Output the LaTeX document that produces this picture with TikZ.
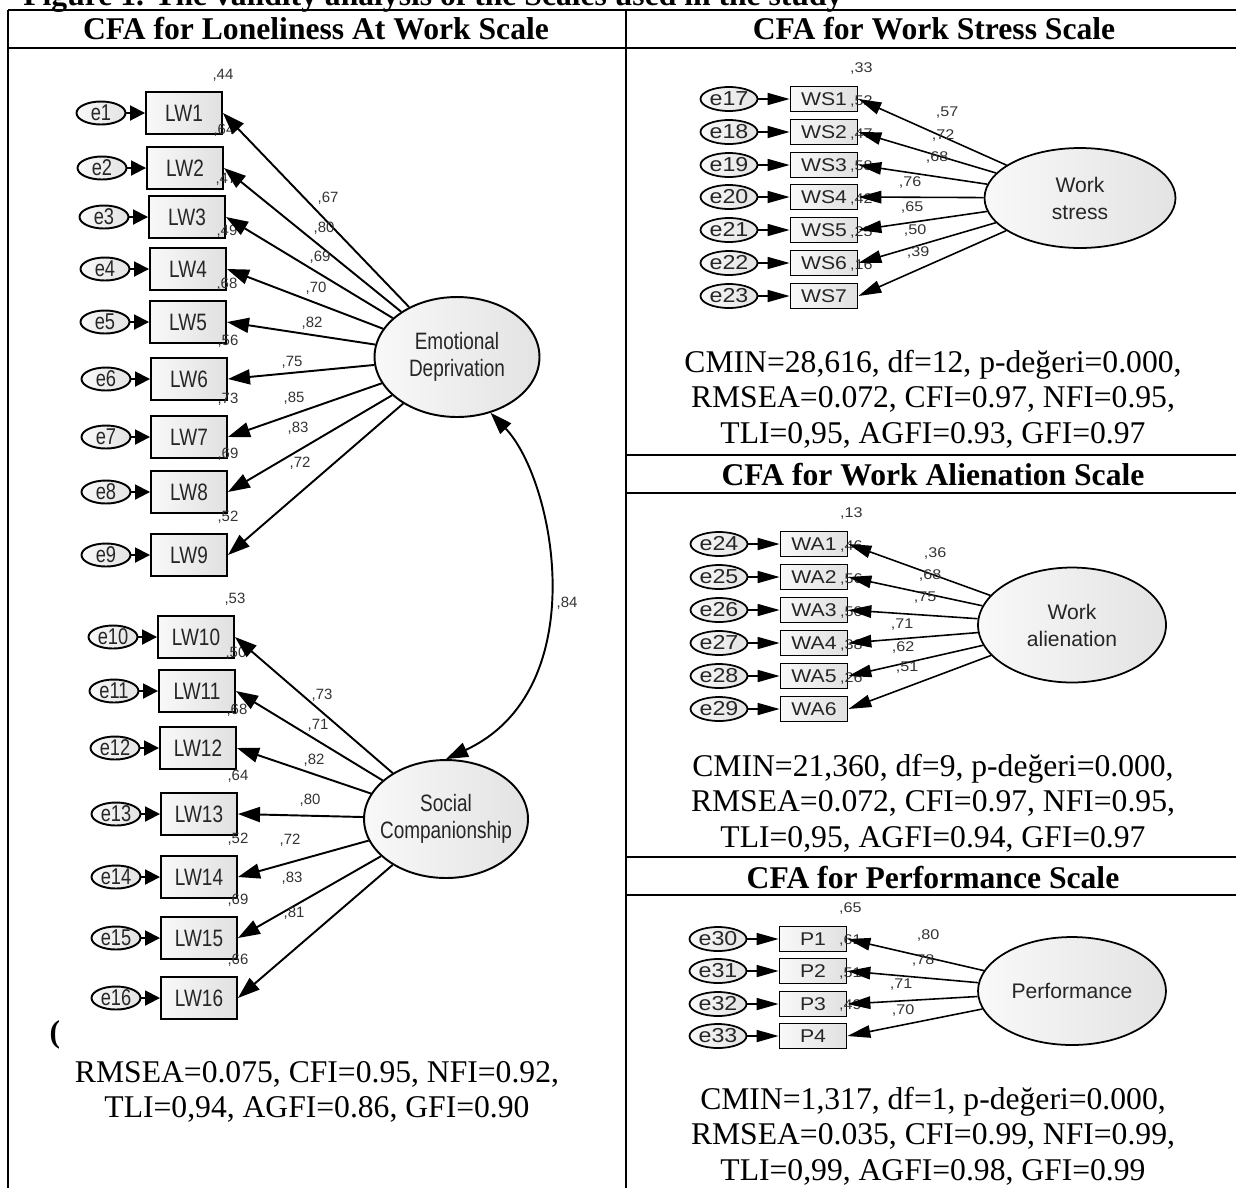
\documentclass[tikz,border=0pt]{standalone}
\usepackage{fontspec}
\setmainfont{Liberation Serif}
\newfontfamily\amos{Liberation Sans}
\newfontfamily\amosl[FakeStretch=0.8]{Liberation Sans}
\newfontfamily\amosr[FakeStretch=1.15]{Liberation Sans}
\usetikzlibrary{arrows.meta, shapes.geometric}

\begin{document}
\begin{tikzpicture}[x=0.02cm, y=-0.02cm,
    tablerule/.style={line width=1.1pt},
    heading/.style={inner sep=0pt, font=\bfseries\fontsize{18}{20}\selectfont},
    fitstat/.style={align=center, inner sep=0pt, font=\fontsize{18}{20.3}\selectfont},
    lwbox/.style={draw, line width=1.1pt, minimum width=1.52cm, minimum height=0.84cm, inner sep=0pt, left color=gray!5, right color=gray!24, text=black!85, font=\amosl\fontsize{13.5}{15}\selectfont},
    lwerr/.style={ellipse, draw, line width=1.1pt, minimum width=0.98cm, minimum height=0.46cm, inner sep=0pt, left color=gray!5, right color=gray!22, text=black!85, font=\amosl\fontsize{13}{14}\selectfont},
    lwlat/.style={ellipse, draw, line width=1.1pt, minimum width=3.3cm, minimum height=2.4cm, inner sep=0pt, left color=gray!5, right color=gray!22},
    lattext/.style={align=center, inner sep=0pt, text=black!85, font=\amosl\fontsize{13.5}{15.4}\selectfont},
    lwnum/.style={inner sep=0pt, text=black!80, font=\amos\fontsize{8.5}{9}\selectfont},
    lwload/.style={line width=1.1pt, -{Triangle[length=0.44cm, width=0.3cm]}},
    lwerrarr/.style={line width=1.1pt, -{Triangle[length=0.3cm, width=0.3cm]}},
    covarc/.style={line width=1.1pt, {Triangle[length=0.44cm, width=0.3cm]}-{Triangle[length=0.44cm, width=0.3cm]}},
    wbox/.style={draw, line width=1pt, minimum width=1.34cm, minimum height=0.5cm, inner sep=0pt, left color=gray!5, right color=gray!24, text=black!85, font=\amosr\fontsize{10.5}{12}\selectfont},
    werr/.style={ellipse, draw, line width=1pt, minimum width=1.14cm, minimum height=0.48cm, inner sep=0pt, left color=gray!5, right color=gray!22, text=black!85, font=\amosr\fontsize{11.5}{12}\selectfont},
    wlat/.style={ellipse, draw, line width=1pt, align=center, inner sep=0pt, left color=gray!5, right color=gray!22, text=black!85, font=\amos\fontsize{12}{15.4}\selectfont},
    wnum/.style={inner sep=0pt, text=black!80, font=\amosr\fontsize{8}{9}\selectfont},
    wload/.style={line width=0.9pt, -{Triangle[length=0.46cm, width=0.25cm]}},
    werrarr/.style={line width=0.9pt, -{Triangle[length=0.44cm, width=0.24cm]}}
]
    \useasboundingbox (0,0) rectangle (1236,1188);

    % 表格
    \node[heading, anchor=base west] (title) at (23,5) {Figure 1. The validity analysis of the Scales used in the study};
    \draw[tablerule] (8,10) -- (1236,10);
    \draw[tablerule] (8,48) -- (1236,48);
    \draw[tablerule] (8,10) -- (8,1188);
    \draw[tablerule] (626,10) -- (626,1188);
    \draw[tablerule] (626,455) -- (1236,455);
    \draw[tablerule] (626,493) -- (1236,493);
    \draw[tablerule] (626,857) -- (1236,857);
    \draw[tablerule] (626,895) -- (1236,895);
    \node[heading] (h1) at (316,29) {CFA for Loneliness At Work Scale};
    \node[heading] (h2) at (934,29) {CFA for Work Stress Scale};
    \node[heading] (h3) at (933,475) {CFA for Work Alienation Scale};
    \node[heading] (h4) at (933,877) {CFA for Performance Scale};

    % 潜变量
    \node[lwlat] (ed) at (457,357) {};
    \node[lattext] (edtext) at (ed.center) {Emotional\\Deprivation};
    \node[lwlat, minimum width=3.28cm, minimum height=2.36cm] (sc) at (446,819) {};
    \node[lattext] (sctext) at (sc.center) {Social\\Companionship};
    \node[wlat, minimum width=3.82cm, minimum height=2cm] (ws) at (1080,198) {Work\\stress};
    \node[wlat, minimum width=3.76cm, minimum height=2.3cm] (wa) at (1072,625) {Work\\alienation};
    \node[wlat, minimum width=3.76cm, minimum height=2.16cm] (perf) at (1072,991) {Performance};

    % 左图：观测变量
    \foreach \i/\x/\y/\rs in {1/184/113/44, 2/185/168/64, 3/187/217/47, 4/188/269/49, 5/188/322/68,
                              6/189/379/56, 7/189/437/73, 8/189/492/69, 9/189/555/52,
                              10/196/637/53, 11/197/691/50, 12/198/748/68, 13/199/814/64,
                              14/199/877/52, 15/199/938/69, 16/199/998/66} {
        \node[lwbox] (lw\i) at (\x,\y) {LW\i};
        \node[lwerr] (e\i) at (\x-83,\y) {e\i};
        \node[lwnum] (r\i) at ([yshift=0.32cm]lw\i.north east) {,\rs};
    }
    \foreach \i/\ld/\lx/\ly in {1/67/328/198, 2/80/324/228, 3/69/320/257, 4/70/316/288, 5/82/312/323,
                                6/75/292/362, 7/85/294/398, 8/83/298/428, 9/72/300/463} {
        \draw[lwerrarr] (e\i) -- (lw\i);
        \draw[lwload] (ed) -- (lw\i.east);
        \node[lwnum] (l\i) at (\lx,\ly) {,\ld};
    }
    \foreach \i/\ld/\lx/\ly in {10/73/322/695, 11/71/318/725, 12/82/314/760, 13/80/310/800,
                                14/72/290/840, 15/83/292/878, 16/81/294/913} {
        \draw[lwerrarr] (e\i) -- (lw\i);
        \draw[lwload] (sc) -- (lw\i.east);
        \node[lwnum] (l\i) at (\lx,\ly) {,\ld};
    }
    \draw[covarc] (ed.-59) .. controls (555,480) and (595,690) .. (sc.north);
    \node[lwnum] (cov) at (567,603) {,84};

    % 右图：观测变量
    \foreach \i/\bx/\y/\rs/\pre in {17/824/99/33/WS1, 18/824/132/52/WS2, 19/824/165/47/WS3, 20/824/197/58/WS4,
                                    21/824/230/42/WS5, 22/824/263/25/WS6, 23/824/296/16/WS7,
                                    24/814/544/13/WA1, 25/814/577/46/WA2, 26/814/610/56/WA3,
                                    27/814/643/50/WA4, 28/814/676/38/WA5, 29/814/709/26/WA6,
                                    30/813/939/65/P1, 31/813/971/61/P2, 32/813/1004/51/P3, 33/813/1036/49/P4} {
        \node[wbox] (w\i) at (\bx,\y) {\pre};
        \node[werr] (e\i) at (\bx-95,\y) {e\i};
        \node[wnum] (r\i) at ([xshift=0.06cm, yshift=0.35cm]w\i.north east) {,\rs};
    }
    \foreach \i/\lat/\ld/\lx/\ly in {17/ws/57/947/113, 18/ws/72/943/135, 19/ws/68/937/157, 20/ws/76/910/182,
                                     21/ws/65/912/207, 22/ws/50/915/230, 23/ws/39/918/252,
                                     24/wa/36/935/553, 25/wa/68/930/575, 26/wa/75/925/598,
                                     27/wa/71/902/625, 28/wa/62/903/647, 29/wa/51/907/668,
                                     30/perf/80/928/935, 31/perf/78/923/960, 32/perf/71/901/985, 33/perf/70/903/1010} {
        \draw[werrarr] (e\i) -- (w\i);
        \draw[wload] (\lat) -- (w\i.east);
        \node[wnum] (l\i) at (\lx,\ly) {,\ld};
    }

    % 拟合指标
    \node[heading] (paren) at (55,1035) {(};
    \node[fitstat] (fitl) at (317,1092) {RMSEA=0.075, CFI=0.95, NFI=0.92,\\TLI=0,94, AGFI=0.86, GFI=0.90};
    \node[fitstat] (fitws) at (933,399) {CMIN=28,616, df=12, p-değeri=0.000,\\RMSEA=0.072, CFI=0.97, NFI=0.95,\\TLI=0,95, AGFI=0.93, GFI=0.97};
    \node[fitstat] (fitwa) at (933,803) {CMIN=21,360, df=9, p-değeri=0.000,\\RMSEA=0.072, CFI=0.97, NFI=0.95,\\TLI=0,95, AGFI=0.94, GFI=0.97};
    \node[fitstat] (fitp) at (933,1136) {CMIN=1,317, df=1, p-değeri=0.000,\\RMSEA=0.035, CFI=0.99, NFI=0.99,\\TLI=0,99, AGFI=0.98, GFI=0.99};
\end{tikzpicture}
\end{document}
